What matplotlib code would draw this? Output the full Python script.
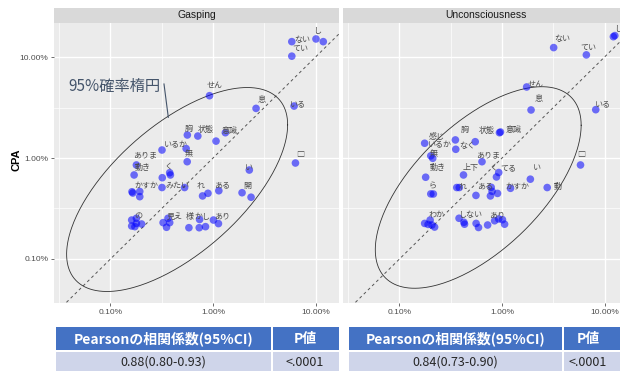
import numpy as np
import matplotlib
matplotlib.use("Agg")
import matplotlib.pyplot as plt
from matplotlib.patches import Rectangle
from matplotlib.ticker import FixedLocator, NullFormatter

plt.rcParams['font.family'] = ['Liberation Sans', 'Noto Sans CJK JP', 'DejaVu Sans']
JP = ['Noto Sans CJK JP', 'DejaVu Sans']

# ---- Gasping (x: word share, y: CPA, both in %) ----
gasp_x = [5.87, 5.87, 10.1, 11.9, 0.925, 2.63, 6.18, 0.562, 0.711, 1.07, 1.32, 0.318,
          0.547, 0.560, 0.179, 0.170, 0.378, 0.384, 0.320, 2.26, 6.37, 0.162, 0.193, 0.193,
          0.165, 0.318, 0.528, 0.791, 0.893, 1.14, 1.92, 2.35, 0.161, 0.179, 0.179, 0.201,
          0.161, 0.173, 0.326, 0.364, 0.378, 0.352, 0.582, 0.740, 0.734, 0.845, 1.01, 1.13]
gasp_y = [14.2, 10.2, 15.1, 14.2, 4.14, 3.10, 3.27, 1.69, 1.65, 1.47, 1.78, 1.20,
          1.24, 0.919, 0.853, 0.679, 0.715, 0.679, 0.638, 0.760, 0.892, 0.463, 0.466, 0.414,
          0.450, 0.510, 0.510, 0.421, 0.447, 0.474, 0.453, 0.409, 0.243, 0.253, 0.225, 0.222,
          0.212, 0.209, 0.229, 0.253, 0.229, 0.206, 0.204, 0.246, 0.204, 0.209, 0.243, 0.224]
gasp_words = ['ない', 'てい', 'し', '', 'せん', '息', 'いる', '胸', '状態', '', '意識', 'いるか',
              '', '無', 'ありま', '動き', 'く', '', '', 'い', '□', 'かすか', '', '',
              '', 'みたい', '', 'れ', '', 'ある', '開', '', '', 'の', '', '',
              '', '', '見え', '', '', '', '様', 'かし', '', '', 'あり', '']

# ---- Unconsciousness ----
unc_x = [3.19, 6.65, 12.2, 12.6, 1.74, 1.92, 8.21, 0.944, 0.966, 0.351, 0.548, 0.176,
         0.354, 0.202, 0.211, 0.638, 0.180, 0.421, 0.929, 0.883, 1.89, 5.83, 0.202, 0.214,
         0.362, 0.383, 0.557, 0.784, 0.800, 0.904, 0.771, 1.21, 2.76, 0.176, 0.199, 0.207,
         0.220, 0.190, 0.381, 0.425, 0.431, 0.559, 0.590, 0.724, 0.847, 0.929, 1.01, 1.06]
unc_y = [12.4, 10.5, 15.9, 16.3, 5.05, 2.99, 3.01, 1.78, 1.81, 1.51, 1.45, 1.40,
         1.22, 1.05, 0.993, 0.919, 0.645, 0.679, 0.718, 0.649, 0.617, 0.853, 0.441, 0.440,
         0.510, 0.510, 0.426, 0.513, 0.468, 0.446, 0.421, 0.501, 0.510, 0.225, 0.243, 0.217,
         0.207, 0.220, 0.253, 0.231, 0.221, 0.225, 0.205, 0.217, 0.239, 0.249, 0.245, 0.221]
unc_words = ['ない', 'てい', 'し', '', 'せん', '息', 'いる', '状態', '意識', '胸', 'なく', '感じ',
             'いるか', '無', '', 'ありま', '動き', '上下', 'く', 'てる', 'い', '□', 'ら', '',
             'れ', '', '', 'ある', '', '', '', 'かすか', '動', '', 'わか', '',
             '', '', 'しない', '', '', '', '', '', 'あり', '', '', '']

# repel-style label offsets (pixels, right / down)
gasp_nudge = [(10.6, -1.7), (8.3, -7.7), (1.3, -8), None, (5, -10.7), (6, -9.3), (4, -2),
              (1.6, -6.7), (8.4, -6.7), None, (4.7, -2.7), (14.4, -5.7), None, (1.8, -8.4),
              (8.3, -10.7), (9, -7.7), (-0.7, -6.7), None, None, (0, -3), (4.4, -8.7),
              (14.7, -6.7), None, None, None, (15, -2.5), None, (-2, -11), None, (3, -5.7),
              (5.6, -7.7), None, None, (1.6, -2.3), None, None, None, None, (11.7, -6.7),
              None, None, None, (0.7, -11.7), (3.3, -3.5), None, None, (8.7, -4), None]
unc_nudge = [(8.3, -8.7), (2.3, -7.3), (5, -8.4), None, (9, -2.7), (7.4, -11), (7.4, -6.4),
             (-13, -2.7), (12.7, -2), (9.7, -10), (-8.3, 3.3), (11.7, -6.6), (-15.7, -4.3),
             (3.3, -2.4), None, (6.6, -7.4), (12.3, -9.9), (6.7, -7.7), (-5.6, -5.8),
             (12.3, -9.7), (6.5, -11.5), (0.8, -10.7), (1.3, -8.3), None, (5.6, -1.8), None,
             None, (-5.7, -1.6), None, None, None, (6.7, -2.6), (10.5, -1.5), None,
             (6.4, -5.7), None, None, None, (11, -3.3), None, None, None, None, None,
             (2.5, -5.8), None, None, None]

# 95% ellipse in log10 space: centre, covariance-like shape matrix
gasp_ell = ((-0.350, -0.312), [[1.162, 0.691], [0.691, 1.020]])
unc_ell = ((-0.232, -0.292), [[1.008, 0.619], [0.619, 0.996]])

table_head = ['Pearsonの相関係数(95%CI)', 'P値']
gasp_stats = ['0.88(0.80-0.93)', '<.0001']
unc_stats = ['0.84(0.73-0.90)', '<.0001']

W, H = 620, 371
fig = plt.figure(figsize=(W / 100, H / 100), dpi=100)

XLIM = (10 ** -1.551, 10 ** 1.229)
YLIM = (10 ** -1.436, 10 ** 1.337)


def px_axes(x0, y0, w, h):
    return fig.add_axes([x0 / W, 1 - (y0 + h) / H, w / W, h / H])


def ellipse(centre, shape, n=300):
    t = np.linspace(0, 2 * np.pi, n)
    L = np.linalg.cholesky(np.array(shape))
    pts = np.array(centre)[:, None] + L @ np.vstack([np.cos(t), np.sin(t)])
    return 10 ** pts[0], 10 ** pts[1]


def panel(x0, x, y, words, nudge, ell, title, show_y):
    ax = px_axes(x0, 23, 285, 280)
    ax.set_facecolor('#EBEBEB')
    ax.set_xscale('log')
    ax.set_yscale('log')
    ax.set_xlim(*XLIM)
    ax.set_ylim(*YLIM)
    for s in ax.spines.values():
        s.set_visible(False)
    for a in (ax.xaxis, ax.yaxis):
        a.set_major_locator(FixedLocator([0.1, 1, 10]))
        a.set_minor_locator(FixedLocator([10 ** -1.5, 10 ** -0.5, 10 ** 0.5]))
        a.set_minor_formatter(NullFormatter())
    ax.set_xticklabels(['0.10%', '1.00%', '10.00%'])
    ax.grid(which='major', color='white', lw=1.0)
    ax.grid(which='minor', color='white', lw=0.5)
    ax.set_axisbelow(True)
    ax.tick_params(which='minor', length=0)
    ax.tick_params(which='major', length=2.5, width=0.5, color='#333333',
                   labelsize=6, labelcolor='#4D4D4D', pad=1.5)
    if show_y:
        ax.set_yticklabels(['0.10%', '1.00%', '10.00%'])
    else:
        ax.set_yticklabels([])
        ax.tick_params(axis='y', which='major', length=0)

    ax.plot(XLIM, XLIM, ls=(0, (3, 3)), color='#555555', lw=0.7, zorder=2)
    ex, ey = ellipse(*ell)
    ax.plot(ex, ey, color='#333333', lw=0.6, zorder=2)
    ax.scatter(x, y, s=30, color='blue', alpha=0.55, edgecolors='none', zorder=3)
    for xi, yi, w, d in zip(x, y, words, nudge):
        if not w:
            continue
        ax.annotate(w, (xi, yi), xytext=(d[0] * 0.72, -d[1] * 0.72),
                    textcoords='offset points', ha='center', va='center',
                    fontsize=5.8, color='#4D4D4D', family=JP, zorder=4)

    strip = px_axes(x0, 8, 285, 15)
    strip.set_facecolor('#D9D9D9')
    strip.set_xticks([])
    strip.set_yticks([])
    for s in strip.spines.values():
        s.set_visible(False)
    strip.text(0.5, 0.5, title, ha='center', va='center', fontsize=7.5,
               color='#1A1A1A', transform=strip.transAxes)
    return ax


panel(54, gasp_x, gasp_y, gasp_words, gasp_nudge, gasp_ell, 'Gasping', True)
panel(343, unc_x, unc_y, unc_words, unc_nudge, unc_ell, 'Unconsciousness', False)

fig.text(17 / W, 1 - 160 / H, 'CPA', rotation=90, fontweight='bold', fontsize=8,
         ha='center', va='center')

# overlay in pixel coordinates: callout and the correlation tables
ov = fig.add_axes([0, 0, 1, 1])
ov.set_xlim(0, W)
ov.set_ylim(H, 0)
ov.axis('off')

ov.text(68, 86, '95%確率楕円', color='#44546A', fontsize=11, ha='left',
        va='center', family=JP)
ov.plot([164, 168.3], [84, 117.3], color='#44546A', lw=0.8)


def table(cols, head_cx, stats):
    for (l, r), cx, h, v in zip(cols, head_cx, table_head, stats):
        ov.add_patch(Rectangle((l, 327), r - l, 23, color='#4472C4', lw=0))
        ov.add_patch(Rectangle((l, 352), r - l, 25, color='#CFD5EA', lw=0))
        ov.text(cx, 338.5, h, ha='center', va='center', color='white',
                fontsize=10, fontweight='bold', family=JP)
        ov.text(cx, 362, v, ha='center', va='center', color='#262626',
                fontsize=9, family=JP)


table([(56, 271), (273, 339)], [163.5, 305], gasp_stats)
table([(349, 562), (564, 630)], [455.5, 588], unc_stats)

fig.savefig('out.png', dpi=100)
